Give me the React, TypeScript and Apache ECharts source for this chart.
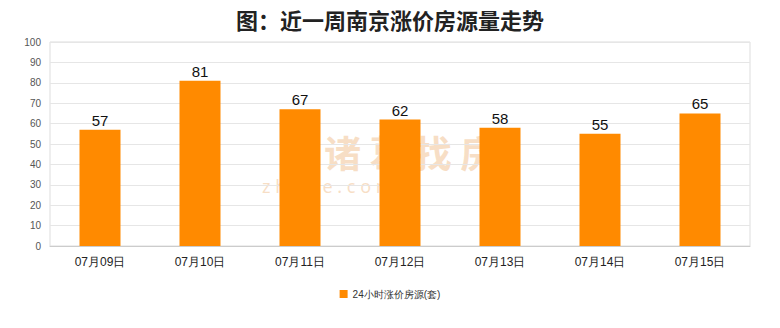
import React, { useEffect, useRef } from "react";
import * as echarts from "echarts";

const categories = ["07月09日", "07月10日", "07月11日", "07月12日", "07月13日", "07月14日", "07月15日"];
const values = [57, 81, 67, 62, 58, 55, 65];
const seriesName = "24小时涨价房源(套)";
const titleText = "图：近一周南京涨价房源量走势";
const watermarkMain = "诸 葛 找 房";
const watermarkSub = "z h u g e . c o m";

export default function App() {
  const ref = useRef<HTMLDivElement>(null);
  useEffect(() => {
    const chart = echarts.init(ref.current!, undefined, { renderer: "svg" });
    chart.setOption({
      animation: false,
      backgroundColor: "#ffffff",
      title: {
        text: titleText,
        left: "center",
        top: 3,
        textStyle: { fontSize: 22, fontWeight: "bold", color: "#222", fontFamily: "Noto Sans CJK SC" },
      },
      graphic: [
        {
          type: "text",
          left: 324,
          top: 133,
          z: 0,
          style: { text: watermarkMain, fontSize: 37, fontWeight: "bold", fill: "rgba(240,190,140,0.5)", fontFamily: "Noto Sans CJK SC" },
        },
        {
          type: "text",
          left: 262,
          top: 177,
          z: 0,
          style: { text: watermarkSub, fontSize: 18, fill: "rgba(240,190,140,0.5)", fontFamily: "Noto Sans" },
        },
      ],
      legend: {
        bottom: 24,
        left: "center",
        itemWidth: 8,
        itemHeight: 8,
        icon: "rect",
        textStyle: { fontSize: 10, color: "#333" },
        data: [seriesName],
      },
      grid: {
        left: 50,
        right: 30,
        top: 42,
        bottom: 82,
        show: true,
        borderColor: "#dddddd",
        borderWidth: 1,
      },
      xAxis: {
        type: "category",
        data: categories,
        axisLine: { lineStyle: { color: "#cccccc" } },
        axisTick: { show: false },
        axisLabel: { fontSize: 12, color: "#222", margin: 10 },
      },
      yAxis: {
        type: "value",
        min: 0,
        max: 100,
        interval: 10,
        axisLine: { show: false },
        axisTick: { show: false },
        axisLabel: { fontSize: 10, color: "#555", margin: 9 },
        splitLine: { lineStyle: { color: "#e6e6e6" } },
      },
      series: [
        {
          name: seriesName,
          type: "bar",
          data: values,
          barWidth: "41%",
          z: 3,
          itemStyle: { color: "#FF8A00" },
          label: { show: true, position: "top", fontSize: 15, color: "#111", distance: 2 },
        },
      ],
    });
    return () => chart.dispose();
  }, []);
  return <div ref={ref} style={{ position: "fixed", left: 0, top: 0, width: 780, height: 328 }} />;
}
